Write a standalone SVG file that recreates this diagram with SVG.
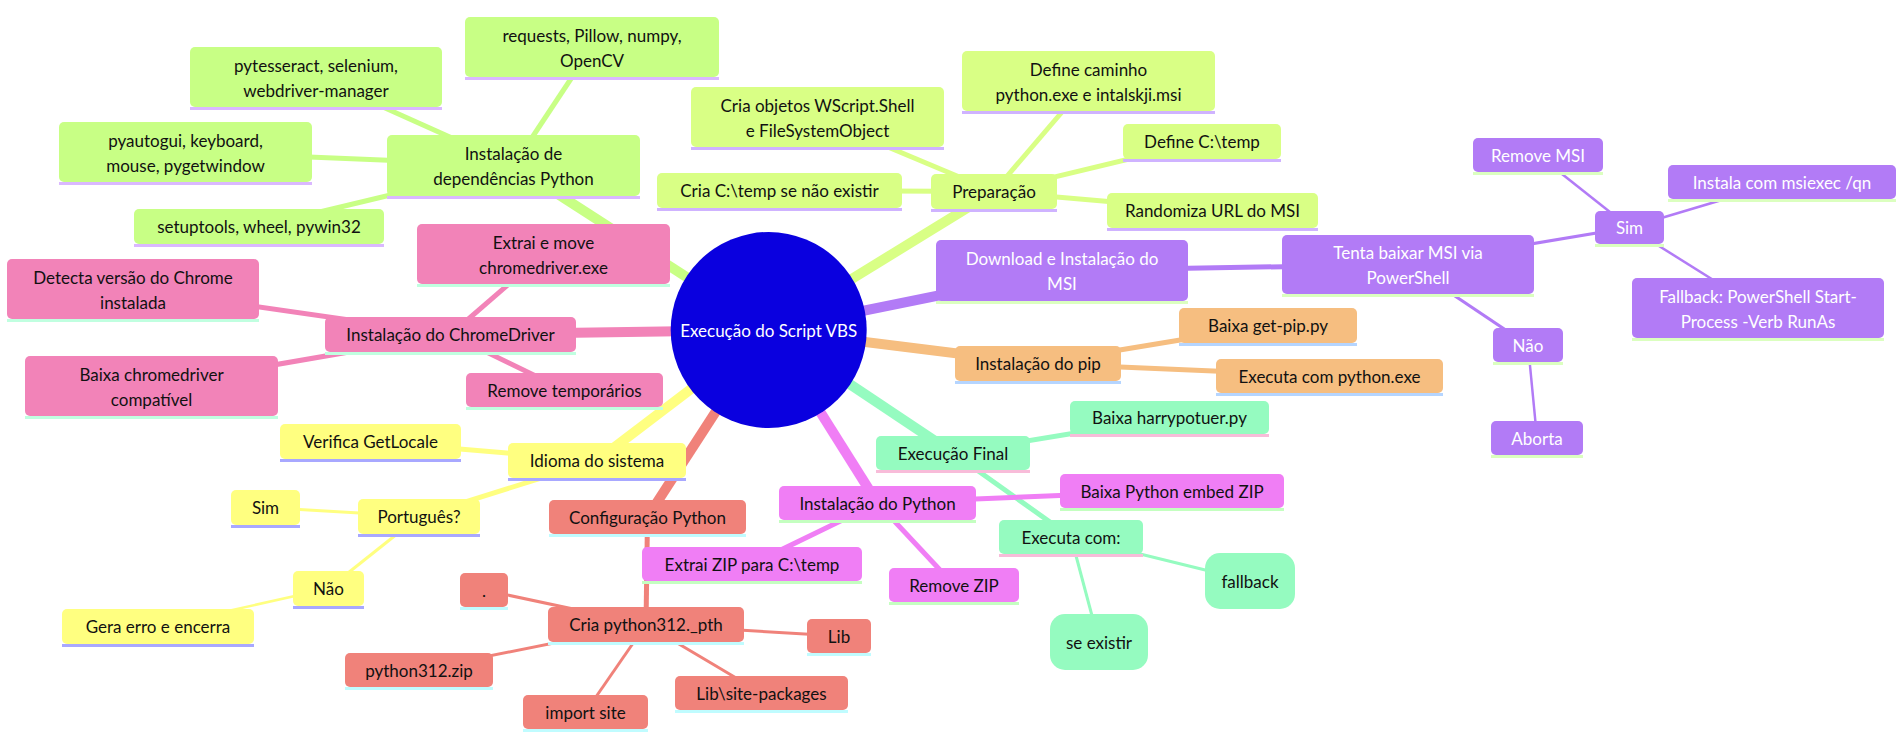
<svg xmlns="http://www.w3.org/2000/svg" width="1901" height="741" viewBox="0 0 1901 741">
<style>
text{font-family:"Lato","Liberation Sans",sans-serif;font-size:17px;fill:#111;text-anchor:middle;dominant-baseline:central}
.e1{stroke-width:10;stroke-linecap:butt}
.e2{stroke-width:5}
.e3{stroke-width:3}
.e4{stroke-width:2.5}
line.bl{stroke-width:3}
.prep rect{fill:#d9ff85}.prep line.bl{stroke:#cfb3ff}.c-prep{stroke:#d9ff85}
.msi rect{fill:#b27bf6}.msi line.bl{stroke:#dbffbf}.msi text{fill:#fff}.c-msi{stroke:#b27bf6}
.pip rect{fill:#f6be80}.pip line.bl{stroke:#b5d5ff}.c-pip{stroke:#f6be80}
.fin rect{fill:#95fbc0}.fin line.bl{stroke:#f8bcd9}.c-fin{stroke:#95fbc0}
.py rect{fill:#f07ef5}.py line.bl{stroke:#c4ffc0}.c-py{stroke:#f07ef5}
.cfg rect{fill:#f0827a}.cfg line.bl{stroke:#c0fcff}.c-cfg{stroke:#f0827a}
.lang rect{fill:#ffff80}.lang line.bl{stroke:#a8a8ff}.c-lang{stroke:#ffff80}
.chr rect{fill:#f283b8}.chr line.bl{stroke:#c0ffe0}.c-chr{stroke:#f283b8}
.dep rect{fill:#c8ff85}.dep line.bl{stroke:#dab8ff}.c-dep{stroke:#c8ff85}
</style>
<rect x="0" y="0" width="1901" height="741" fill="#fff"/>
<g id="connectors">
<line class="e1 c-prep" x1="768.7" y1="330" x2="994" y2="191.5"/>
<line class="e1 c-msi" x1="768.7" y1="330" x2="1062" y2="270.5"/>
<line class="e1 c-pip" x1="768.7" y1="330" x2="1038" y2="363.5"/>
<line class="e1 c-fin" x1="768.7" y1="330" x2="953" y2="453"/>
<line class="e1 c-py" x1="768.7" y1="330" x2="877.5" y2="503"/>
<line class="e1 c-cfg" x1="768.7" y1="330" x2="647.5" y2="517"/>
<line class="e1 c-lang" x1="768.7" y1="330" x2="597" y2="460.5"/>
<line class="e1 c-chr" x1="768.7" y1="330" x2="450.5" y2="334.5"/>
<line class="e1 c-dep" x1="768.7" y1="330" x2="513.5" y2="165.5"/>
<line class="e2 c-prep" x1="994" y1="191.5" x2="817.5" y2="117.5"/>
<line class="e2 c-prep" x1="994" y1="191.5" x2="1088.5" y2="81"/>
<line class="e2 c-prep" x1="994" y1="191.5" x2="1202" y2="141.5"/>
<line class="e2 c-prep" x1="994" y1="191.5" x2="1212.5" y2="210.5"/>
<line class="e2 c-prep" x1="994" y1="191.5" x2="779.5" y2="190.5"/>
<line class="e2 c-msi" x1="1062" y1="270.5" x2="1408" y2="264.5"/>
<line class="e2 c-pip" x1="1038" y1="363.5" x2="1268" y2="325.5"/>
<line class="e2 c-pip" x1="1038" y1="363.5" x2="1329.5" y2="376"/>
<line class="e2 c-fin" x1="953" y1="453" x2="1169.5" y2="417.5"/>
<line class="e2 c-fin" x1="953" y1="453" x2="1071" y2="537"/>
<line class="e2 c-py" x1="877.5" y1="503" x2="1172" y2="491"/>
<line class="e2 c-py" x1="877.5" y1="503" x2="752" y2="564"/>
<line class="e2 c-py" x1="877.5" y1="503" x2="954" y2="585"/>
<line class="e2 c-cfg" x1="647.5" y1="517" x2="646" y2="624.5"/>
<line class="e2 c-lang" x1="597" y1="460.5" x2="370.5" y2="441.5"/>
<line class="e2 c-lang" x1="597" y1="460.5" x2="419" y2="516.5"/>
<line class="e2 c-chr" x1="450.5" y1="334.5" x2="133" y2="289"/>
<line class="e2 c-chr" x1="450.5" y1="334.5" x2="151.5" y2="386"/>
<line class="e2 c-chr" x1="450.5" y1="334.5" x2="543.5" y2="254"/>
<line class="e2 c-chr" x1="450.5" y1="334.5" x2="564.5" y2="390"/>
<line class="e2 c-dep" x1="513.5" y1="165.5" x2="592" y2="47"/>
<line class="e2 c-dep" x1="513.5" y1="165.5" x2="316" y2="77"/>
<line class="e2 c-dep" x1="513.5" y1="165.5" x2="185.5" y2="152"/>
<line class="e2 c-dep" x1="513.5" y1="165.5" x2="259" y2="226.5"/>
<line class="e3 c-msi" x1="1408" y1="264.5" x2="1629.5" y2="227.5"/>
<line class="e3 c-msi" x1="1408" y1="264.5" x2="1528" y2="345"/>
<line class="e3 c-fin" x1="1071" y1="537" x2="1250" y2="581"/>
<line class="e3 c-fin" x1="1071" y1="537" x2="1099" y2="642"/>
<line class="e3 c-cfg" x1="646" y1="624.5" x2="484" y2="590"/>
<line class="e3 c-cfg" x1="646" y1="624.5" x2="419" y2="670"/>
<line class="e3 c-cfg" x1="646" y1="624.5" x2="585.5" y2="712"/>
<line class="e3 c-cfg" x1="646" y1="624.5" x2="761.5" y2="693"/>
<line class="e3 c-cfg" x1="646" y1="624.5" x2="839" y2="636"/>
<line class="e3 c-lang" x1="419" y1="516.5" x2="265.5" y2="507.5"/>
<line class="e3 c-lang" x1="419" y1="516.5" x2="328.5" y2="588.5"/>
<line class="e4 c-msi" x1="1629.5" y1="227.5" x2="1538" y2="155"/>
<line class="e4 c-msi" x1="1629.5" y1="227.5" x2="1782" y2="182"/>
<line class="e4 c-msi" x1="1629.5" y1="227.5" x2="1758" y2="308"/>
<line class="e4 c-msi" x1="1528" y1="345" x2="1537" y2="438"/>
<line class="e4 c-lang" x1="328.5" y1="588.5" x2="158" y2="626.5"/>
</g>

<g id="root"><circle cx="768.7" cy="330" r="98" fill="#0a00df"/><text x="768.7" y="330" style="fill:#fff">Execução do Script VBS</text></g>

<g id="n-prep" class="prep"><rect x="931" y="174" width="126" height="35" rx="5"/><line class="bl" x1="931" y1="210.5" x2="1057" y2="210.5"/><text x="994" y="191.5">Preparação</text></g>
<g id="n-prep-objs" class="prep"><rect x="691" y="87" width="253" height="60" rx="5"/><line class="bl" x1="691" y1="148.5" x2="944" y2="148.5"/><text x="817.5" y="105">Cria objetos WScript.Shell</text><text x="817.5" y="130">e FileSystemObject</text></g>
<g id="n-prep-path" class="prep"><rect x="962" y="51" width="253" height="60" rx="5"/><line class="bl" x1="962" y1="112.5" x2="1215" y2="112.5"/><text x="1088.5" y="69">Define caminho</text><text x="1088.5" y="94">python.exe e intalskji.msi</text></g>
<g id="n-prep-temp" class="prep"><rect x="1123" y="124" width="158" height="35" rx="5"/><line class="bl" x1="1123" y1="160.5" x2="1281" y2="160.5"/><text x="1202" y="141.5">Define C:\temp</text></g>
<g id="n-prep-url" class="prep"><rect x="1107" y="193" width="211" height="35" rx="5"/><line class="bl" x1="1107" y1="229.5" x2="1318" y2="229.5"/><text x="1212.5" y="210.5">Randomiza URL do MSI</text></g>
<g id="n-prep-mk" class="prep"><rect x="657" y="173" width="245" height="35" rx="5"/><line class="bl" x1="657" y1="209.5" x2="902" y2="209.5"/><text x="779.5" y="190.5">Cria C:\temp se não existir</text></g>

<g id="n-msi" class="msi"><rect x="936" y="240" width="252" height="61" rx="5"/><line class="bl" x1="936" y1="302.5" x2="1188" y2="302.5"/><text x="1062" y="258">Download e Instalação do</text><text x="1062" y="283">MSI</text></g>
<g id="n-msi-try" class="msi"><rect x="1282" y="235" width="252" height="59" rx="5"/><line class="bl" x1="1282" y1="295.5" x2="1534" y2="295.5"/><text x="1408" y="252">Tenta baixar MSI via</text><text x="1408" y="277">PowerShell</text></g>
<g id="n-msi-sim" class="msi"><rect x="1595" y="211" width="69" height="33" rx="5"/><line class="bl" x1="1595" y1="245.5" x2="1664" y2="245.5"/><text x="1629.5" y="227.5">Sim</text></g>
<g id="n-msi-rm" class="msi"><rect x="1473" y="138" width="130" height="34" rx="5"/><line class="bl" x1="1473" y1="173.5" x2="1603" y2="173.5"/><text x="1538" y="155">Remove MSI</text></g>
<g id="n-msi-inst" class="msi"><rect x="1668" y="165" width="228" height="34" rx="5"/><line class="bl" x1="1668" y1="200.5" x2="1896" y2="200.5"/><text x="1782" y="182">Instala com msiexec /qn</text></g>
<g id="n-msi-fb" class="msi"><rect x="1632" y="278" width="252" height="60" rx="5"/><line class="bl" x1="1632" y1="339.5" x2="1884" y2="339.5"/><text x="1758" y="296">Fallback: PowerShell Start-</text><text x="1758" y="321">Process -Verb RunAs</text></g>
<g id="n-msi-nao" class="msi"><rect x="1493" y="328" width="70" height="34" rx="5"/><line class="bl" x1="1493" y1="363.5" x2="1563" y2="363.5"/><text x="1528" y="345">Não</text></g>
<g id="n-msi-abort" class="msi"><rect x="1491" y="421" width="92" height="34" rx="5"/><line class="bl" x1="1491" y1="456.5" x2="1583" y2="456.5"/><text x="1537" y="438">Aborta</text></g>

<g id="n-pip" class="pip"><rect x="955" y="346" width="166" height="35" rx="5"/><line class="bl" x1="955" y1="382.5" x2="1121" y2="382.5"/><text x="1038" y="363.5">Instalação do pip</text></g>
<g id="n-pip-get" class="pip"><rect x="1179" y="308" width="178" height="35" rx="5"/><line class="bl" x1="1179" y1="344.5" x2="1357" y2="344.5"/><text x="1268" y="325.5">Baixa get-pip.py</text></g>
<g id="n-pip-run" class="pip"><rect x="1216" y="359" width="227" height="34" rx="5"/><line class="bl" x1="1216" y1="394.5" x2="1443" y2="394.5"/><text x="1329.5" y="376">Executa com python.exe</text></g>

<g id="n-fin" class="fin"><rect x="876" y="436" width="154" height="34" rx="5"/><line class="bl" x1="876" y1="471.5" x2="1030" y2="471.5"/><text x="953" y="453">Execução Final</text></g>
<g id="n-fin-dl" class="fin"><rect x="1070" y="401" width="199" height="33" rx="5"/><line class="bl" x1="1070" y1="435.5" x2="1269" y2="435.5"/><text x="1169.5" y="417.5">Baixa harrypotuer.py</text></g>
<g id="n-fin-exec" class="fin"><rect x="999" y="520" width="144" height="34" rx="5"/><line class="bl" x1="999" y1="555.5" x2="1143" y2="555.5"/><text x="1071" y="537">Executa com:</text></g>
<g id="n-fin-fb" class="fin"><rect x="1205" y="553" width="90" height="56" rx="15"/><text x="1250" y="581">fallback</text></g>
<g id="n-fin-se" class="fin"><rect x="1050" y="614" width="98" height="56" rx="15"/><text x="1099" y="642">se existir</text></g>

<g id="n-py" class="py"><rect x="779" y="486" width="197" height="34" rx="5"/><line class="bl" x1="779" y1="521.5" x2="976" y2="521.5"/><text x="877.5" y="503">Instalação do Python</text></g>
<g id="n-py-dl" class="py"><rect x="1060" y="474" width="224" height="34" rx="5"/><line class="bl" x1="1060" y1="509.5" x2="1284" y2="509.5"/><text x="1172" y="491">Baixa Python embed ZIP</text></g>
<g id="n-py-rm" class="py"><rect x="889" y="568" width="130" height="34" rx="5"/><line class="bl" x1="889" y1="603.5" x2="1019" y2="603.5"/><text x="954" y="585">Remove ZIP</text></g>

<g id="n-cfg" class="cfg"><rect x="549" y="500" width="197" height="34" rx="5"/><line class="bl" x1="549" y1="535.5" x2="746" y2="535.5"/><text x="647.5" y="517">Configuração Python</text></g>
<g id="n-py-ex" class="py"><rect x="642" y="547" width="220" height="34" rx="5"/><line class="bl" x1="642" y1="582.5" x2="862" y2="582.5"/><text x="752" y="564">Extrai ZIP para C:\temp</text></g>
<g id="n-cfg-pth" class="cfg"><rect x="548" y="607" width="196" height="35" rx="5"/><line class="bl" x1="548" y1="643.5" x2="744" y2="643.5"/><text x="646" y="624.5">Cria python312._pth</text></g>
<g id="n-cfg-dot" class="cfg"><rect x="460" y="573" width="48" height="34" rx="5"/><line class="bl" x1="460" y1="608.5" x2="508" y2="608.5"/><text x="484" y="590">.</text></g>
<g id="n-cfg-zip" class="cfg"><rect x="345" y="653" width="148" height="34" rx="5"/><line class="bl" x1="345" y1="688.5" x2="493" y2="688.5"/><text x="419" y="670">python312.zip</text></g>
<g id="n-cfg-imp" class="cfg"><rect x="523" y="695" width="125" height="34" rx="5"/><line class="bl" x1="523" y1="730.5" x2="648" y2="730.5"/><text x="585.5" y="712">import site</text></g>
<g id="n-cfg-sp" class="cfg"><rect x="675" y="676" width="173" height="34" rx="5"/><line class="bl" x1="675" y1="711.5" x2="848" y2="711.5"/><text x="761.5" y="693">Lib\site-packages</text></g>
<g id="n-cfg-lib" class="cfg"><rect x="807" y="619" width="64" height="34" rx="5"/><line class="bl" x1="807" y1="654.5" x2="871" y2="654.5"/><text x="839" y="636">Lib</text></g>

<g id="n-lang" class="lang"><rect x="508" y="443" width="178" height="35" rx="5"/><line class="bl" x1="508" y1="479.5" x2="686" y2="479.5"/><text x="597" y="460.5">Idioma do sistema</text></g>
<g id="n-lang-loc" class="lang"><rect x="280" y="424" width="181" height="35" rx="5"/><line class="bl" x1="280" y1="460.5" x2="461" y2="460.5"/><text x="370.5" y="441.5">Verifica GetLocale</text></g>
<g id="n-lang-pt" class="lang"><rect x="358" y="499" width="122" height="35" rx="5"/><line class="bl" x1="358" y1="535.5" x2="480" y2="535.5"/><text x="419" y="516.5">Português?</text></g>
<g id="n-lang-sim" class="lang"><rect x="231" y="490" width="69" height="35" rx="5"/><line class="bl" x1="231" y1="526.5" x2="300" y2="526.5"/><text x="265.5" y="507.5">Sim</text></g>
<g id="n-lang-nao" class="lang"><rect x="293" y="571" width="71" height="35" rx="5"/><line class="bl" x1="293" y1="607.5" x2="364" y2="607.5"/><text x="328.5" y="588.5">Não</text></g>
<g id="n-lang-err" class="lang"><rect x="62" y="609" width="192" height="35" rx="5"/><line class="bl" x1="62" y1="645.5" x2="254" y2="645.5"/><text x="158" y="626.5">Gera erro e encerra</text></g>

<g id="n-chr" class="chr"><rect x="325" y="317" width="251" height="35" rx="5"/><line class="bl" x1="325" y1="353.5" x2="576" y2="353.5"/><text x="450.5" y="334.5">Instalação do ChromeDriver</text></g>
<g id="n-chr-det" class="chr"><rect x="7" y="259" width="252" height="60" rx="5"/><line class="bl" x1="7" y1="320.5" x2="259" y2="320.5"/><text x="133" y="277">Detecta versão do Chrome</text><text x="133" y="302">instalada</text></g>
<g id="n-chr-dl" class="chr"><rect x="25" y="356" width="253" height="60" rx="5"/><line class="bl" x1="25" y1="417.5" x2="278" y2="417.5"/><text x="151.5" y="374">Baixa chromedriver</text><text x="151.5" y="399">compatível</text></g>
<g id="n-chr-mv" class="chr"><rect x="417" y="224" width="253" height="60" rx="5"/><line class="bl" x1="417" y1="285.5" x2="670" y2="285.5"/><text x="543.5" y="242">Extrai e move</text><text x="543.5" y="267">chromedriver.exe</text></g>
<g id="n-chr-rm" class="chr"><rect x="466" y="373" width="197" height="34" rx="5"/><line class="bl" x1="466" y1="408.5" x2="663" y2="408.5"/><text x="564.5" y="390">Remove temporários</text></g>

<g id="n-dep" class="dep"><rect x="387" y="135" width="253" height="61" rx="5"/><line class="bl" x1="387" y1="197.5" x2="640" y2="197.5"/><text x="513.5" y="153">Instalação de</text><text x="513.5" y="178">dependências Python</text></g>
<g id="n-dep-req" class="dep"><rect x="465" y="17" width="254" height="60" rx="5"/><line class="bl" x1="465" y1="78.5" x2="719" y2="78.5"/><text x="592" y="35">requests, Pillow, numpy,</text><text x="592" y="60">OpenCV</text></g>
<g id="n-dep-tes" class="dep"><rect x="190" y="47" width="252" height="60" rx="5"/><line class="bl" x1="190" y1="108.5" x2="442" y2="108.5"/><text x="316" y="65">pytesseract, selenium,</text><text x="316" y="90">webdriver-manager</text></g>
<g id="n-dep-gui" class="dep"><rect x="59" y="122" width="253" height="60" rx="5"/><line class="bl" x1="59" y1="183.5" x2="312" y2="183.5"/><text x="185.5" y="140">pyautogui, keyboard,</text><text x="185.5" y="165">mouse, pygetwindow</text></g>
<g id="n-dep-st" class="dep"><rect x="134" y="209" width="250" height="35" rx="5"/><line class="bl" x1="134" y1="245.5" x2="384" y2="245.5"/><text x="259" y="226.5">setuptools, wheel, pywin32</text></g>
</svg>
